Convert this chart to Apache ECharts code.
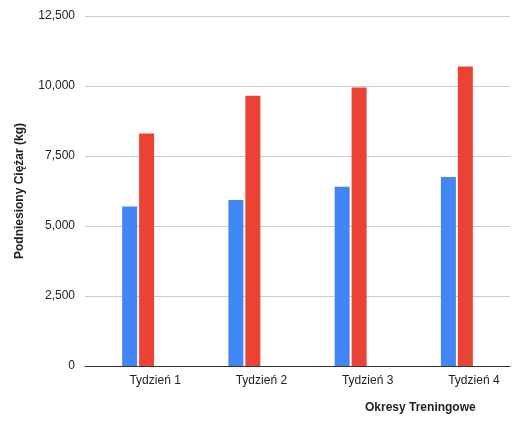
<!DOCTYPE html><html><head><meta charset="utf-8">
<script src="https://cdn.jsdelivr.net/npm/echarts@6/dist/echarts.min.js"></script>
<style>html,body{margin:0;padding:0;background:#fff}#c{width:513px;height:427px}</style></head>
<body><div id="c"></div><script>
const categories=['Tydzień 1','Tydzień 2','Tydzień 3','Tydzień 4'];
const blueValues=[5700,5930,6400,6750];
const redValues=[8300,9650,9950,10700];
const yTicks=[0,2500,5000,7500,10000,12500];
const c=echarts.init(document.getElementById('c'));
c.setOption({
 animation:false,
 textStyle:{fontFamily:'Arial, Liberation Sans'},
 grid:{left:85,right:3,top:16,bottom:61},
 xAxis:{type:'category',data:categories,axisTick:{show:false},
  axisLine:{lineStyle:{color:'#333'}},
  axisLabel:{color:'#222',fontSize:12,margin:9,padding:[0,0,0,34]}},
 yAxis:{type:'value',min:0,max:12500,interval:2500,
  axisLabel:{color:'#222',fontSize:12,margin:10},
  splitLine:{lineStyle:{color:'#ccc'}}},
 series:[
  {type:'bar',data:blueValues,barWidth:15,barGap:'13%',itemStyle:{color:'#4285f4'}},
  {type:'bar',data:redValues,barWidth:15,itemStyle:{color:'#ea4335'}}
 ],
 graphic:[
  {type:'text',left:365,top:402,style:{text:'Okresy Treningowe',font:'bold 12px Arial, Liberation Sans',fill:'#222'}},
  {type:'text',x:20,y:191,rotation:Math.PI/2,style:{text:'Podniesiony Ciężar (kg)',font:'bold 12px Arial, Liberation Sans',fill:'#222',align:'center',verticalAlign:'middle'}}
 ]
});
</script></body></html>
